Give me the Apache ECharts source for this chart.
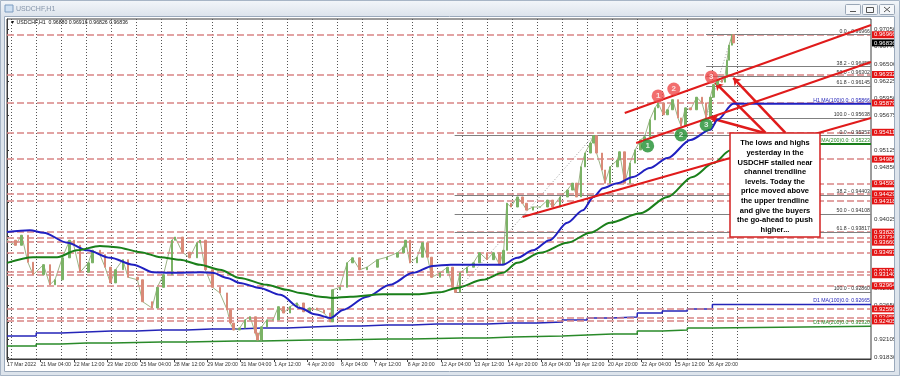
<!DOCTYPE html>
<html>
<head>
<meta charset="utf-8">
<script src="https://cdn.jsdelivr.net/npm/echarts@6/dist/echarts.min.js"></script>
<style>
html, body { margin: 0; padding: 0; background: #fff; }
#chart { width: 900px; height: 376px; }
</style>
</head>
<body>
<div id="chart"></div>
<script>
const FONT = '"Liberation Sans", Arial, sans-serif';

// time axis: one label every 32 H1 bars
const timeLabels = ['17 Mar 2022', '21 Mar 04:00', '22 Mar 12:00', '23 Mar 20:00', '25 Mar 04:00',
    '28 Mar 12:00', '29 Mar 20:00', '31 Mar 04:00', '1 Apr 12:00', '4 Apr 20:00', '6 Apr 04:00',
    '7 Apr 12:00', '8 Apr 20:00', '12 Apr 04:00', '13 Apr 12:00', '14 Apr 20:00', '18 Apr 04:00',
    '19 Apr 12:00', '20 Apr 20:00', '22 Apr 04:00', '25 Apr 12:00', '26 Apr 20:00'];
const priceTicks = [0.97050, 0.96775, 0.96500, 0.96225, 0.95950, 0.95675, 0.95400, 0.95125, 0.94850,
    0.94575, 0.94300, 0.94025, 0.93750, 0.93475, 0.93200, 0.92925, 0.92650, 0.92380, 0.92105, 0.91830];

// price path (bar index, close)
const priceBars = [0, 8, 14, 20, 25, 35, 41, 46, 53, 60, 64, 70, 78, 82, 89, 94, 99, 104, 111, 116,
    125, 130, 139, 144, 150, 158, 161, 168, 175, 182, 185, 190, 197, 204, 211, 214, 217, 223, 228, 233,
    238, 240, 244, 249, 255, 260, 265, 271, 278, 284, 290, 297, 304, 310, 312, 319, 326, 331, 338, 345,
    355, 364, 374, 380, 382, 386, 393, 398, 403, 407, 415, 422, 427, 430, 434, 441, 447, 453, 460, 466,
    472, 476, 479, 483, 489, 494, 498, 504, 511, 518, 523, 530, 537, 542, 546, 550, 554, 559, 562, 565,
    570, 573, 578, 585, 587, 592, 597, 602, 607, 611, 616, 621, 624, 629, 633, 638, 643, 646, 650, 655,
    661, 666, 670, 674, 677, 681, 685, 688, 690, 692, 695, 696];
const priceClose = [0.9369, 0.9361, 0.9377, 0.9334, 0.9314, 0.9330, 0.9298, 0.9306, 0.9341, 0.9369,
    0.9361, 0.9318, 0.9333, 0.9353, 0.9346, 0.9326, 0.9301, 0.9322, 0.9338, 0.9310,
    0.9306, 0.9271, 0.9261, 0.9294, 0.9314, 0.9369, 0.9374, 0.9350, 0.9341, 0.9365,
    0.9369, 0.9322, 0.9294, 0.9285, 0.9258, 0.9237, 0.9226, 0.9229, 0.9242, 0.9247,
    0.9221, 0.9210, 0.9231, 0.9242, 0.9242, 0.9263, 0.9253, 0.9263, 0.9269, 0.9255,
    0.9261, 0.9258, 0.9253, 0.9239, 0.9290, 0.9294, 0.9333, 0.9341, 0.9322, 0.9326,
    0.9338, 0.9342, 0.9349, 0.9358, 0.9369, 0.9333, 0.9342, 0.9365, 0.9342, 0.9310,
    0.9317, 0.9326, 0.9294, 0.9286, 0.9317, 0.9326, 0.9333, 0.9349, 0.9338, 0.9349,
    0.9330, 0.9353, 0.9428, 0.9422, 0.9438, 0.9428, 0.9417, 0.9422, 0.9422, 0.9433,
    0.9422, 0.9438, 0.9449, 0.9460, 0.9438, 0.9486, 0.9508, 0.9524, 0.95357, 0.9508,
    0.9481, 0.9460, 0.9486, 0.9497, 0.9510, 0.9460, 0.9492, 0.9513, 0.9529, 0.9534,
    0.9561, 0.9580, 0.95879, 0.9569, 0.9577, 0.9593, 0.9564, 0.9551, 0.9580, 0.9577,
    0.9597, 0.9588, 0.95638, 0.9597, 0.9617, 0.9625, 0.9621, 0.9629, 0.9656, 0.9680,
    0.96966, 0.96836];

// H1 moving averages
const h1Ma100Bars = [0, 22, 35, 58, 77, 99, 121, 140, 159, 185, 197, 211, 223, 242, 262, 281, 295, 310,
    322, 345, 367, 389, 408, 425, 447, 475, 489, 504, 520, 537, 552, 562, 571, 585, 600, 616, 633, 655,
    674, 681, 696, 828];
const h1Ma100Vals = [0.9382, 0.9385, 0.9381, 0.9365, 0.9353, 0.9341, 0.9330, 0.9318, 0.9317, 0.9318,
    0.9317, 0.9309, 0.9301, 0.9293, 0.9282, 0.9261, 0.9251, 0.9245, 0.9258, 0.9279, 0.9298, 0.9317,
    0.9328, 0.9330, 0.9330, 0.9330, 0.9341, 0.9353, 0.9369, 0.9397, 0.9417, 0.9438, 0.9452, 0.9460,
    0.9470, 0.9484, 0.9500, 0.9529, 0.9545, 0.9561, 0.95866, 0.95866];
const h1Ma200Bars = [0, 25, 48, 67, 89, 105, 128, 147, 166, 185, 204, 223, 249, 268, 281, 300, 312,
    329, 360, 393, 415, 431, 456, 475, 489, 511, 537, 559, 578, 607, 633, 657, 677, 693, 696, 828];
const h1Ma200Vals = [0.9333, 0.9342, 0.9342, 0.9353, 0.9360, 0.9358, 0.9350, 0.9342, 0.9338, 0.9330,
    0.9322, 0.9309, 0.9298, 0.9290, 0.9285, 0.9279, 0.9277, 0.9279, 0.9283, 0.9283, 0.9286, 0.9293,
    0.9306, 0.9317, 0.9333, 0.9349, 0.9365, 0.9381, 0.9397, 0.9412, 0.9438, 0.9470, 0.9492, 0.9512,
    0.95223, 0.95223];

// D1 moving averages, one value per trading day (bar where each day starts)
const dayBars = [0, 4, 28, 52, 76, 100, 124, 148, 172, 196, 220, 244, 268, 292, 316, 340, 364, 388,
    412, 436, 460, 484, 508, 532, 556, 580, 604, 628, 652, 676, 828];
const d1Ma100 = [0.92164, 0.92164, 0.92212, 0.92228, 0.92244, 0.92244, 0.92260, 0.92260, 0.92275,
    0.92275, 0.92291, 0.92291, 0.92307, 0.92323, 0.92323, 0.92339, 0.92339, 0.92355, 0.92355, 0.92355,
    0.92371, 0.92371, 0.92387, 0.92419, 0.92451, 0.92467, 0.92530, 0.92562, 0.92594, 0.92665, 0.92665];
const d1Ma200 = [0.92004, 0.92004, 0.92036, 0.92052, 0.92052, 0.92060, 0.92068, 0.92068, 0.92076,
    0.92084, 0.92084, 0.92092, 0.92100, 0.92100, 0.92108, 0.92116, 0.92116, 0.92124, 0.92132, 0.92132,
    0.92148, 0.92156, 0.92164, 0.92180, 0.92196, 0.92196, 0.92243, 0.92259, 0.92291, 0.92320, 0.92320];
// vertical grid sits on day starts, one more beyond the last bar
const gridBars = [4, 28, 52, 76, 100, 124, 148, 172, 196, 220, 244, 268, 292, 316, 340, 364, 388,
    412, 436, 460, 484, 508, 532, 556, 580, 604, 628, 652, 676, 700];

// horizontal price levels
const redLevels = [0.96966, 0.96332, 0.95879, 0.95411, 0.94984, 0.94590, 0.94429, 0.94318, 0.93820,
    0.93734, 0.93660, 0.93497, 0.93194, 0.93140, 0.92964, 0.92596, 0.92455, 0.92405];
const lastPrice = 0.96836;

// fibonacci retracements
const fibPct = ['0.0', '38.2', '50.0', '61.8', '100.0'];
const fibBigVals = [0.95357, 0.94403, 0.94108, 0.93817, 0.92860];
const fibBigStart = 429;
const fibSmallVals = [0.96966, 0.96458, 0.96302, 0.96145, 0.95638];
const fibSmallStart = 670;
const fibBigSwing = [[430, 0.92860], [562, 0.95357]];
const fibSmallSwing = [[670, 0.95638], [695, 0.96966]];

// trendlines, arrows, markers
const upperChannel = [[592, 0.95719], [828, 0.97122]];
const lowerChannel = [[603, 0.95241], [828, 0.96532]];
const longTrend = [[494, 0.94061], [828, 0.95639]];
const arrows = [
    [[727, 0.9540], [679, 0.96197]],
    [[746, 0.9540], [696, 0.96277]],
    [[726, 0.9540], [674, 0.95639]]
];
const redMarks = [[624, 0.9599, '1'], [639, 0.96101, '2'], [675, 0.96293, '3']];
const greenMarks = [[614, 0.95193, '1'], [646, 0.95368, '2'], [670, 0.95528, '3']];

const noteLines = ['The lows and highs', 'yesterday in the', 'USDCHF stalled near', 'channel trendline',
    'levels. Today the', 'price moved above', 'the upper trendline', 'and give the buyers',
    'the go-ahead to push', 'higher...'];

const Y_MIN = 0.91797, Y_MAX = 0.97217, X_MAX = 828;

let candles = [];
for (let i = 1; i < priceBars.length; i++) {
    let o = priceClose[i - 1], c = priceClose[i];
    candles.push([priceBars[i], o, c, Math.min(o, c), Math.max(o, c)]);
}
let closeLine = priceBars.map((b, i) => [b, priceClose[i]]);
let labelBars = timeLabels.map((t, i) => i * 32);

function zip(bars, vals) {
    return bars.map((b, i) => [b, vals[i]]);
}

function hLine(start, v, label) {
    let b = { coord: [X_MAX, v] };
    if (label) b.label = label;
    return [{ coord: [start, v] }, b];
}

const HIDDEN = { color: 'rgba(0,0,0,0)' };

// invisible anchor series so markLines always have a home
function anchor(z, markLine) {
    return {
        type: 'line', data: [[0, Y_MIN]], z: z, symbol: 'none', silent: true, clip: false,
        lineStyle: HIDDEN, markLine: Object.assign({ silent: true, symbol: 'none', animation: false }, markLine)
    };
}

let chart = echarts.init(document.getElementById('chart'));
let option = {
    animation: false,
    backgroundColor: '#ffffff',
    textStyle: { fontFamily: FONT },
    grid: {
        left: 7, top: 19, width: 864, height: 340,
        show: true, borderColor: '#3a3a3a', borderWidth: 1, backgroundColor: 'transparent'
    },
    xAxis: {
        type: 'value', min: 0, max: X_MAX,
        axisLine: { show: true, lineStyle: { color: '#3a3a3a' } },
        axisTick: { show: true, customValues: labelBars, length: 3, lineStyle: { color: '#3a3a3a' } },
        axisLabel: {
            customValues: labelBars,
            formatter: v => timeLabels[Math.round(v / 32)] || '',
            fontSize: 5.2, color: '#333', align: 'left', margin: 3, fontFamily: FONT
        },
        splitLine: { show: false }
    },
    yAxis: {
        type: 'value', position: 'right', min: Y_MIN, max: Y_MAX,
        axisLine: { show: true, lineStyle: { color: '#3a3a3a' } },
        axisTick: { show: true, customValues: priceTicks, length: 2, lineStyle: { color: '#3a3a3a' } },
        axisLabel: {
            customValues: priceTicks,
            formatter: v => v.toFixed(5),
            fontSize: 6.2, color: '#333', margin: 3, fontFamily: FONT
        },
        splitLine: { show: false }
    },
    series: [
        // red dashed levels with price boxes
        anchor(2, {
            lineStyle: { type: [7, 3], color: '#d98585', width: 1.5 },
            label: {
                show: true, position: 'end', distance: 1, color: '#fff',
                backgroundColor: '#e31414', fontSize: 6, padding: [1, 2, 0, 2], fontFamily: FONT
            },
            data: redLevels.map(v => hLine(0, v, { formatter: v.toFixed(5) }))
        }),
        // current price box
        anchor(12, {
            lineStyle: HIDDEN,
            label: {
                show: true, position: 'end', distance: 1, color: '#fff',
                backgroundColor: '#000', fontSize: 6, padding: [1, 2, 0, 2], fontFamily: FONT
            },
            data: [hLine(700, lastPrice, { formatter: lastPrice.toFixed(5) })]
        }),
        // fibonacci levels
        anchor(2, {
            lineStyle: { type: 'solid', color: '#808080', width: 1 },
            label: {
                show: true, position: 'insideEndTop', distance: 1, color: '#333',
                fontSize: 5.2, fontFamily: FONT
            },
            data: fibBigVals.map((v, i) => hLine(fibBigStart, v, { formatter: fibPct[i] + ' - ' + v.toFixed(5) }))
                .concat(fibSmallVals.map((v, i) => hLine(fibSmallStart, v, { formatter: fibPct[i] + ' - ' + v.toFixed(5) })))
        }),
        // moving average value tags
        anchor(3, {
            lineStyle: HIDDEN,
            label: { show: true, position: 'insideEndTop', distance: 1, fontSize: 5.2, fontFamily: FONT },
            data: [
                hLine(676, 0.92665, { formatter: 'D1 MA(100)0.0: 0.92665', color: '#2525b8' }),
                hLine(676, 0.95866, { formatter: 'H1 MA(100)0.0: 0.95866', color: '#2525b8' }),
                hLine(676, 0.92320, { formatter: 'D1 MA(200)0.0: 0.92320', color: '#2a8a2a' }),
                hLine(676, 0.95223, { formatter: 'H1 MA(200)0.0: 0.95223', color: '#2a8a2a' })
            ]
        }),
        {
            type: 'line', data: fibBigSwing, z: 2, symbol: 'none', silent: true,
            lineStyle: { color: '#9a9a9a', width: 1, type: [1, 2] }
        },
        {
            type: 'line', data: fibSmallSwing, z: 2, symbol: 'none', silent: true,
            lineStyle: { color: '#9a9a9a', width: 1, type: [1, 2] }
        },
        {
            // D1 MA(100)
            type: 'line', data: zip(dayBars, d1Ma100), step: 'end', z: 3, symbol: 'none', silent: true,
            lineStyle: { color: '#2525b8', width: 1.5 }
        },
        {
            // D1 MA(200)
            type: 'line', data: zip(dayBars, d1Ma200), step: 'end', z: 3, symbol: 'none', silent: true,
            lineStyle: { color: '#2a8a2a', width: 1.5 }
        },
        {
            type: 'line', data: closeLine, z: 4, symbol: 'none', silent: true,
            lineStyle: { color: '#9db487', width: 1 }
        },
        {
            type: 'candlestick', data: candles, z: 5, barWidth: 2,
            encode: { x: 0, y: [1, 2, 3, 4] },
            itemStyle: {
                color: '#7bb266', borderColor: '#7bb266',
                color0: '#d98a78', borderColor0: '#d98a78', borderWidth: 1
            }
        },
        {
            // H1 MA(100)
            type: 'line', data: zip(h1Ma100Bars, h1Ma100Vals), z: 6, symbol: 'none', silent: true,
            smooth: 0.3, smoothMonotone: 'x',
            lineStyle: { color: '#2020c0', width: 2 }
        },
        {
            // H1 MA(200)
            type: 'line', data: zip(h1Ma200Bars, h1Ma200Vals), z: 6, symbol: 'none', silent: true,
            smooth: 0.3, smoothMonotone: 'x',
            lineStyle: { color: '#1a7f1a', width: 2 }
        },
        ...[upperChannel, lowerChannel, longTrend].map(d => ({
            type: 'line', data: d, z: 7, symbol: 'none', silent: true,
            lineStyle: { color: '#e01b1b', width: 2 }
        })),
        anchor(8, {
            symbol: ['none', 'arrow'], symbolSize: 7,
            lineStyle: { type: 'solid', color: '#e01b1b', width: 2.5 },
            label: { show: false },
            data: arrows.map(a => [{ coord: a[0] }, { coord: a[1] }])
        }),
        {
            type: 'scatter', data: redMarks, z: 9, symbolSize: 13, silent: true,
            itemStyle: { color: '#ef4a4a' },
            label: {
                show: true, position: 'inside', formatter: p => p.value[2],
                color: '#fff', fontSize: 8, fontWeight: 'bold', fontFamily: FONT
            }
        },
        {
            type: 'scatter', data: greenMarks, z: 9, symbolSize: 13, silent: true,
            itemStyle: { color: '#1f8f2f' },
            label: {
                show: true, position: 'inside', formatter: p => p.value[2],
                color: '#fff', fontSize: 8, fontWeight: 'bold', fontFamily: FONT
            }
        }
    ],
    graphic: [
        // window frame
        { type: 'rect', z: 50, shape: { x: 0, y: 0, width: 900, height: 16 },
          style: { fill: new echarts.graphic.LinearGradient(0, 0, 0, 1, [
              { offset: 0, color: '#f3f6fa' }, { offset: 1, color: '#dde4ec' }]) } },
        { type: 'rect', z: 50, shape: { x: 0, y: 16, width: 4, height: 360 }, style: { fill: '#dde4ec' } },
        { type: 'rect', z: 50, shape: { x: 895, y: 16, width: 5, height: 360 }, style: { fill: '#dde4ec' } },
        { type: 'rect', z: 50, shape: { x: 0, y: 372, width: 900, height: 4 }, style: { fill: '#dde4ec' } },
        { type: 'rect', z: 51, shape: { x: 0.5, y: 0.5, width: 899, height: 375 },
          style: { fill: 'none', stroke: '#a7b5c6', lineWidth: 1 } },
        { type: 'rect', z: 51, shape: { x: 4.5, y: 16.5, width: 890, height: 355 },
          style: { fill: 'none', stroke: '#9aa9bb', lineWidth: 1 } },
        { type: 'rect', z: 51, shape: { x: 5, y: 5, width: 8, height: 7 },
          style: { fill: '#cfe0f2', stroke: '#7d9cc0', lineWidth: 1 } },
        { type: 'text', z: 51, x: 16, y: 9, style: { text: 'USDCHF,H1', fill: '#8595aa',
          fontSize: 7, fontFamily: FONT, verticalAlign: 'middle' } },
        // window buttons
        ...[845, 862, 879].map(x => ({ type: 'rect', z: 51, shape: { x: x + 0.5, y: 4.5, width: 15, height: 10, r: 1 },
          style: { fill: '#f5f7fa', stroke: '#9aa7b7', lineWidth: 1 } })),
        { type: 'line', z: 52, shape: { x1: 850, y1: 11.5, x2: 856, y2: 11.5 }, style: { stroke: '#555', lineWidth: 1 } },
        { type: 'rect', z: 52, shape: { x: 866.5, y: 7.5, width: 7, height: 5 }, style: { fill: 'none', stroke: '#555', lineWidth: 1 } },
        { type: 'line', z: 52, shape: { x1: 884, y1: 7, x2: 890, y2: 12 }, style: { stroke: '#555', lineWidth: 1 } },
        { type: 'line', z: 52, shape: { x1: 890, y1: 7, x2: 884, y2: 12 }, style: { stroke: '#555', lineWidth: 1 } },
        // chart header
        { type: 'text', z: 52, x: 10, y: 23, style: {
            text: '\u25BC USDCHF,H1  0.96880 0.96916 0.96826 0.96836', fill: '#111',
            fontSize: 5.2, fontFamily: FONT, verticalAlign: 'middle' } },
        // note box
        { type: 'rect', z: 100, shape: { x: 730, y: 133, width: 90, height: 104 },
          style: { fill: '#ffffff', stroke: '#d42020', lineWidth: 1.5 } },
        { type: 'text', z: 101, x: 775, y: 138.5, style: {
            text: noteLines.join('\n'), fill: '#000', fontSize: 7.5, fontWeight: 'bold',
            fontFamily: FONT, align: 'center', verticalAlign: 'top', lineHeight: 9.6 } }
    ]
};
chart.setOption(option);

// vertical dotted grid, placed through the x axis scale
let gridTopPx = chart.convertToPixel({ gridIndex: 0 }, [0, Y_MAX])[1];
let gridBottomPx = chart.convertToPixel({ gridIndex: 0 }, [0, Y_MIN])[1];
for (let b of gridBars) {
    let x = Math.round(chart.convertToPixel({ gridIndex: 0 }, [b, Y_MIN])[0]) + 0.5;
    option.graphic.push({
        type: 'line', z: 0, silent: true,
        shape: { x1: x, y1: gridTopPx, x2: x, y2: gridBottomPx },
        style: { stroke: '#555', lineWidth: 1, lineDash: [1, 2] }
    });
}
chart.setOption(option, true);
</script>
</body>
</html>
